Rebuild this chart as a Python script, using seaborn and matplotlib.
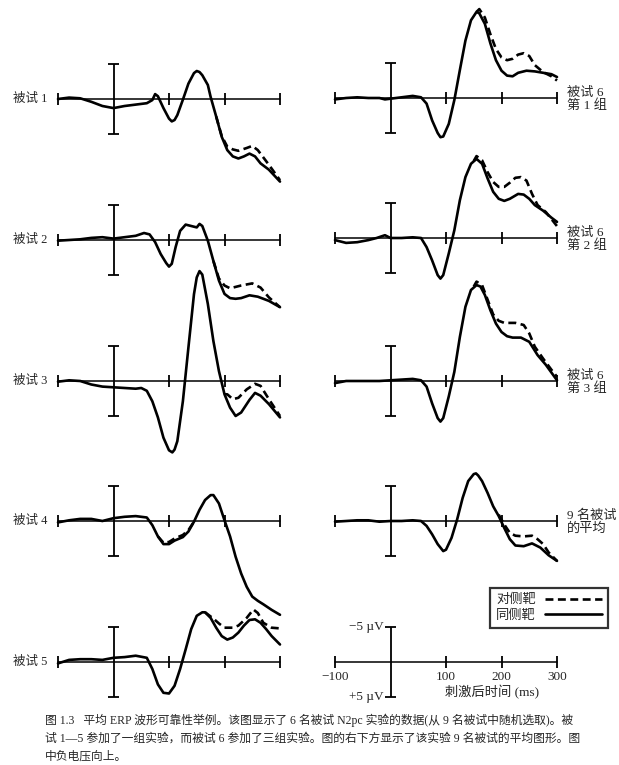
import matplotlib
matplotlib.use("Agg")
import matplotlib.pyplot as plt
from matplotlib.lines import Line2D
import seaborn as sns

W, H = 619, 765

# ---- waveform data (µV, negative plotted up) ----
# subject 1
s1_t = [-100, -80, -60, -40, -20, 0, 20, 40, 60, 70, 75, 80, 90, 100, 105, 110, 115, 125, 135, 145, 150,
        155, 160, 170, 175, 185, 195, 205, 215, 225, 235, 245, 255, 265, 280, 300]
s1_ipsi = [0, -0.2, -0.1, 0.4, 1.0, 1.3, 1.0, 0.8, 0.6, 0.15, -0.7, -0.4, 1.3, 2.8, 3.2, 3.0, 2.3, 0.1, -2.2, -3.7, -4.0,
           -3.85, -3.4, -2.0, -0.3, 2.5, 5.4, 7.3, 8.2, 8.5, 8.2, 7.8, 8.2, 9.2, 10.1, 11.8]
s1_ct = [185, 195, 205, 215, 225, 240, 250, 260, 280, 300]
s1_contra = [2.5, 5.3, 6.8, 7.2, 7.4, 7.0, 6.7, 7.3, 9.4, 11.6]

# subject 2
s2_t = [-100, -80, -60, -40, -20, 0, 20, 40, 55, 65, 75, 85, 95, 100, 105, 112, 120, 130, 140, 150,
        155, 160, 170, 180, 190, 200, 210, 220, 230, 245, 260, 280, 300]
s2_ipsi = [0.1, 0, -0.1, -0.3, -0.4, -0.2, -0.4, -0.6, -1.0, -0.8, 0.3, 2.0, 3.3, 3.8, 3.4, 1.0, -1.3, -2.2, -2.0, -1.8,
           -2.3, -2.0, 0.1, 3.0, 5.8, 7.7, 8.3, 8.4, 8.3, 7.9, 8.1, 8.7, 9.6]
s2_ct = [180, 190, 200, 210, 230, 250, 265, 280, 300]
s2_contra = [3.0, 5.5, 6.5, 6.9, 6.5, 6.2, 6.8, 8.2, 9.6]

# subject 3
s3_t = [-100, -80, -60, -40, -20, 0, 20, 40, 50, 60, 70, 80, 90, 100, 106, 110, 115, 125, 135, 145, 150,
        155, 160, 170, 180, 190, 200, 210, 220, 230, 245, 255, 265, 280, 300]
s3_ipsi = [0.1, -0.1, 0, 0.5, 0.8, 0.9, 1.0, 1.1, 1.0, 1.4, 2.9, 5.2, 8.1, 9.9, 10.2, 9.8, 8.6, 2.9, -4.8, -12.4, -14.8,
           -15.7, -15.2, -11.0, -5.7, -1.4, 1.9, 3.8, 5.0, 4.5, 2.7, 1.7, 2.1, 3.3, 5.2]
s3_ct = [200, 205, 215, 225, 240, 255, 265, 280, 300]
s3_contra = [1.9, 1.9, 2.6, 2.4, 1.2, 0.4, 0.7, 2.6, 5.0]

# subject 4
s4_t = [-100, -80, -60, -40, -20, 0, 20, 40, 60, 70, 80, 90, 100, 110, 125, 135, 145, 155, 165, 175,
        180, 190, 200, 210, 220, 230, 240, 250, 260, 270, 285, 300]
s4_ipsi = [0.2, -0.1, -0.3, -0.3, 0, -0.4, -0.6, -0.7, -0.5, 0.6, 2.2, 3.3, 3.3, 2.8, 2.3, 1.5, 0.1, -1.6, -3.0, -3.7,
           -3.7, -2.5, -0.1, 2.2, 5.1, 7.5, 9.4, 10.8, 11.4, 11.9, 12.7, 13.4]
s4_ct = [80, 90, 100, 110, 125, 135, 145]
s4_contra = [2.2, 3.1, 3.0, 2.5, 2.0, 1.3, 0.1]

# subject 5
s5_t = [-100, -80, -60, -40, -20, 0, 20, 40, 60, 70, 80, 90, 100, 110, 120, 130, 140, 150, 160, 165,
        175, 185, 195, 205, 215, 225, 235, 245, 255, 265, 275, 285, 300]
s5_ipsi = [0.2, -0.3, -0.4, -0.4, -0.3, -0.6, -0.7, -0.9, -0.6, 1.0, 3.2, 4.4, 4.5, 3.4, 1.0, -1.8, -4.7, -6.6, -7.1, -7.1,
           -6.3, -4.9, -3.7, -3.2, -3.5, -4.2, -5.2, -6.0, -6.1, -5.6, -4.7, -3.7, -2.5]
s5_ct = [165, 180, 190, 200, 215, 225, 240, 252, 260, 270, 285, 300]
s5_contra = [-7.1, -6.2, -5.5, -4.9, -4.9, -5.2, -6.3, -7.5, -7.0, -5.6, -4.9, -4.8]

# subject 6, session 1
s61_t = [-100, -80, -60, -40, -20, -10, 0, 20, 40, 55, 65, 75, 85, 90, 95, 105, 115, 125, 135, 145,
         155, 160, 170, 180, 190, 200, 210, 220, 230, 245, 260, 275, 290, 300]
s61_ipsi = [0.2, 0, -0.1, 0, 0, 0.2, 0.1, -0.1, -0.3, -0.1, 0.8, 3.2, 5.0, 5.6, 5.5, 3.7, 0.3, -4.0, -8.2, -11.1,
            -12.3, -12.1, -10.6, -7.8, -5.4, -3.9, -3.2, -3.1, -3.6, -3.9, -3.8, -3.6, -3.4, -3.0]
s61_ct = [155, 160, 170, 180, 190, 200, 210, 220, 230, 240, 250, 260, 275, 290, 300]
s61_contra = [-12.3, -12.7, -11.5, -9.1, -7.0, -5.8, -5.4, -5.6, -6.2, -6.4, -6.0, -4.7, -3.7, -3.1, -2.5]

# subject 6, session 2
s62_t = [-100, -80, -60, -40, -25, -10, 0, 20, 40, 55, 65, 75, 85, 90, 95, 105, 115, 125, 135, 145,
         155, 165, 175, 185, 195, 205, 215, 230, 240, 250, 260, 275, 290, 300]
s62_ipsi = [0.3, 0.7, 0.6, 0.3, 0, -0.4, 0, 0, -0.1, 0, 1.3, 3.2, 5.3, 5.8, 5.3, 2.2, -1.1, -5.4, -8.7, -10.6,
            -11.3, -10.6, -8.5, -6.6, -5.6, -5.3, -5.6, -6.3, -6.2, -5.6, -4.7, -3.9, -2.9, -2.3]
s62_ct = [150, 155, 165, 175, 185, 195, 205, 215, 225, 235, 245, 255, 265, 280, 300]
s62_contra = [-11.0, -11.7, -11.1, -9.4, -8.0, -7.3, -7.3, -7.9, -8.6, -8.7, -8.2, -6.3, -4.7, -3.7, -1.7]

# subject 6, session 3
s63_t = [-100, -80, -40, -20, 0, 20, 40, 55, 65, 75, 85, 90, 95, 105, 115, 125, 135, 145, 155, 162,
         170, 180, 190, 200, 210, 220, 235, 250, 265, 280, 300]
s63_ipsi = [0.3, 0, 0, 0, -0.1, -0.2, -0.3, -0.1, 0.8, 3.2, 5.3, 5.8, 5.3, 2.2, -1.3, -6.3, -10.6, -13.0, -13.7, -13.5,
            -12.3, -10.1, -8.2, -7.0, -6.4, -6.2, -6.2, -5.6, -3.7, -2.3, -0.1]
s63_ct = [150, 155, 165, 175, 185, 195, 205, 225, 240, 250, 260, 275, 290, 300]
s63_contra = [-13.5, -14.2, -13.7, -11.6, -9.5, -8.6, -8.3, -8.3, -8.0, -6.8, -4.9, -3.2, -1.6, -0.6]

# grand average of 9 subjects
avg_t = [-100, -80, -60, -40, -20, 0, 20, 40, 55, 65, 75, 85, 95, 100, 110, 120, 130, 140, 150, 154, 158,
         165, 175, 185, 195, 205, 215, 225, 240, 255, 270, 285, 300]
avg_ipsi = [0.1, 0, -0.1, -0.1, 0.1, 0, 0, -0.1, 0, 0.7, 1.9, 3.3, 4.3, 4.1, 2.4, -0.2, -3.3, -5.7, -6.7, -6.8, -6.5,
            -5.7, -4.0, -2.1, -0.7, 1.0, 2.6, 3.5, 3.6, 3.2, 3.8, 4.9, 5.7]
avg_ct = [195, 205, 215, 225, 240, 255, 265, 275, 285, 300]
avg_contra = [-0.9, 0.5, 1.7, 2.1, 2.2, 2.1, 2.6, 3.3, 4.5, 5.7]

left_labels = ["被试 1", "被试 2", "被试 3", "被试 4", "被试 5"]
right_labels = ["被试 6\n第 1 组", "被试 6\n第 2 组", "被试 6\n第 3 组", "9 名被试\n的平均"]
tick_times = [-100, 100, 200, 300]
tick_labels = ["\u2212100", "100", "200", "300"]
legend_labels = ["对侧靶", "同侧靶"]
caption = ["图 1.3   平均 ERP 波形可靠性举例。该图显示了 6 名被试 N2pc 实验的数据(从 9 名被试中随机选取)。被",
           "试 1—5 参加了一组实验，而被试 6 参加了三组实验。图的右下方显示了该实验 9 名被试的平均图形。图",
           "中负电压向上。"]

left_panels = [(s1_t, s1_ipsi, s1_ct, s1_contra), (s2_t, s2_ipsi, s2_ct, s2_contra),
               (s3_t, s3_ipsi, s3_ct, s3_contra), (s4_t, s4_ipsi, s4_ct, s4_contra),
               (s5_t, s5_ipsi, s5_ct, s5_contra)]
right_panels = [(s61_t, s61_ipsi, s61_ct, s61_contra), (s62_t, s62_ipsi, s62_ct, s62_contra),
                (s63_t, s63_ipsi, s63_ct, s63_contra), (avg_t, avg_ipsi, avg_ct, avg_contra)]

sns.set_style("white")
plt.rcParams['font.family'] = ['Liberation Serif', 'Noto Sans CJK SC', 'DejaVu Sans']

fig = plt.figure(figsize=(W / 100, H / 100), dpi=100)

left_base = [99, 240, 381, 521, 662]
right_base = [98, 238, 381, 521, 662]

LW = 1.9
DASH = (0, (3.0, 1.7))


def panel_axes(x0, baseline):
    ax = fig.add_axes([x0 / W, 1 - (baseline + 70) / H, 222 / W, 140 / H])
    ax.set_xlim(-100, 300)
    ax.set_ylim(10, -10)
    ax.axis('off')
    return ax


def draw_frame(ax):
    ax.plot([-100, 300], [0, 0], color='k', lw=1.1, clip_on=False)
    ax.vlines(tick_times, -0.8, 0.8, color='k', lw=1.3, clip_on=False)
    ax.vlines(0, -5, 5, color='k', lw=1.3, clip_on=False)
    ax.hlines([-5, 5], -10, 10, color='k', lw=1.3, clip_on=False)


def draw_waves(ax, t, ipsi, ct, contra):
    sns.lineplot(x=ct, y=contra, ax=ax, color='k', lw=LW, linestyle=DASH,
                 estimator=None, sort=False, clip_on=False)
    sns.lineplot(x=t, y=ipsi, ax=ax, color='k', lw=LW, solid_joinstyle='round',
                 solid_capstyle='round', estimator=None, sort=False, clip_on=False)
    ax.set_xlim(-100, 300)
    ax.set_ylim(10, -10)
    ax.axis('off')


for base, label, data in zip(left_base, left_labels, left_panels):
    ax = panel_axes(58, base)
    draw_frame(ax)
    draw_waves(ax, *data)
    ax.text(-120, 0, label, ha='right', va='center', fontsize=9)

for base, label, data in zip(right_base[:4], right_labels, right_panels):
    ax = panel_axes(335, base)
    draw_frame(ax)
    draw_waves(ax, *data)
    ax.text(318, 0.2, label, ha='left', va='center', fontsize=9.5, linespacing=1.1)

# scale / time axis panel
ax = panel_axes(335, right_base[4])
draw_frame(ax)
for tt, lab in zip(tick_times, tick_labels):
    ax.text(tt, 2.1, lab, ha='center', va='center', fontsize=9.5)
ax.text(-12, -5, "\u22125 µV", ha='right', va='center', fontsize=9.5)
ax.text(-12, 5, "+5 µV", ha='right', va='center', fontsize=9.5)
ax.text(183, 4.3, "刺激后时间 (ms)", ha='center', va='center', fontsize=9.5)

handles = [Line2D([], [], color='k', lw=LW, linestyle=DASH),
           Line2D([], [], color='k', lw=LW)]
leg = fig.legend(handles, legend_labels, loc='upper left',
                 bbox_to_anchor=(490 / W, 1 - 588 / H), markerfirst=False,
                 frameon=True, fancybox=False, edgecolor='black', fontsize=9.5,
                 handlelength=4.3, handletextpad=0.7, borderpad=0.45,
                 borderaxespad=0, labelspacing=0.25)
leg.get_frame().set_linewidth(1.6)

for i, line in enumerate(caption):
    fig.text(45 / W, 1 - (720 + 18.5 * i) / H, line, ha='left', va='center', fontsize=8.5)

fig.savefig("out.png", dpi=100)
